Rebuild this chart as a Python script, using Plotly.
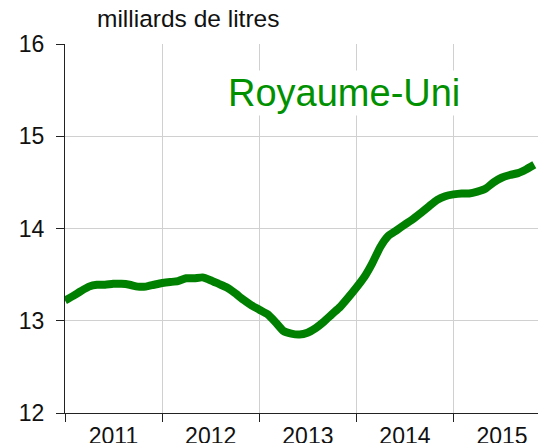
import plotly.graph_objects as go

months = [f"{2011 + i // 12}-{i % 12 + 1:02d}-01" for i in range(59)]
values = [
    13.22, 13.27, 13.32, 13.37, 13.39, 13.39, 13.40, 13.40, 13.39, 13.37, 13.37, 13.39,
    13.41, 13.42, 13.43, 13.46, 13.46, 13.47, 13.44, 13.40, 13.36, 13.30, 13.23, 13.17,
    13.12, 13.07, 12.99, 12.89, 12.86, 12.85, 12.87, 12.92, 12.99, 13.07, 13.15, 13.25,
    13.36, 13.48, 13.62, 13.80, 13.92, 13.98, 14.04, 14.10, 14.17, 14.24, 14.31, 14.35,
    14.37, 14.38, 14.38, 14.40, 14.43, 14.50, 14.55, 14.58, 14.60, 14.64, 14.69,
]
y_ticks = [12, 13, 14, 15, 16]
unit_label = "milliards de litres"
country = "Royaume-Uni"

FONT = "Liberation Sans, Arial, sans-serif"
GREEN = "#008000"

fig = go.Figure()
fig.add_trace(go.Scatter(
    x=months, y=values, mode="lines",
    line=dict(color=GREEN, width=8, shape="spline", smoothing=0.5),
    hoverinfo="skip", showlegend=False,
))

fig.update_layout(
    width=538, height=443,
    margin=dict(l=65, r=0, t=44, b=30),
    paper_bgcolor="white", plot_bgcolor="white",
    font=dict(family=FONT, size=23, color="#111111"),
    xaxis=dict(
        type="date", automargin=False,
        range=["2011-01-01", "2015-11-15"],
        tick0="2011-01-01", dtick="M12",
        tickformat="%Y", ticklabelmode="period",
        showgrid=True, gridcolor="#d0d0d0", gridwidth=1,
        ticks="outside", ticklen=8, tickcolor="#222222", tickwidth=1,
        showline=True, linecolor="#222222", linewidth=1,
        zeroline=False,
        tickfont=dict(family=FONT, size=23, color="#111111"),
        ticklabelstandoff=-6,
    ),
    yaxis=dict(
        range=[12, 16], tickvals=y_ticks, automargin=False,
        showgrid=True, gridcolor="#d0d0d0", gridwidth=1,
        ticks="outside", ticklen=8, tickcolor="#222222", tickwidth=1,
        showline=True, linecolor="#222222", linewidth=1,
        zeroline=False,
        tickfont=dict(family=FONT, size=23, color="#111111"),
        ticklabelstandoff=7,
    ),
    annotations=[
        dict(text=unit_label, xref="paper", yref="paper", x=(95 - 65) / 473, y=(413 - 18) / 369,
             xanchor="left", yanchor="middle", showarrow=False,
             font=dict(family=FONT, size=24.5, color="#111111")),
        dict(text=country, xref="paper", yref="paper", x=(344 - 65) / 473, y=(413 - 93) / 369,
             xanchor="center", yanchor="middle", showarrow=False, bgcolor="white",
             font=dict(family=FONT, size=38, color="#009000")),
    ],
)

fig.write_html("out.html", config={"displayModeBar": False},
               post_script="document.body.style.margin='0px';")
